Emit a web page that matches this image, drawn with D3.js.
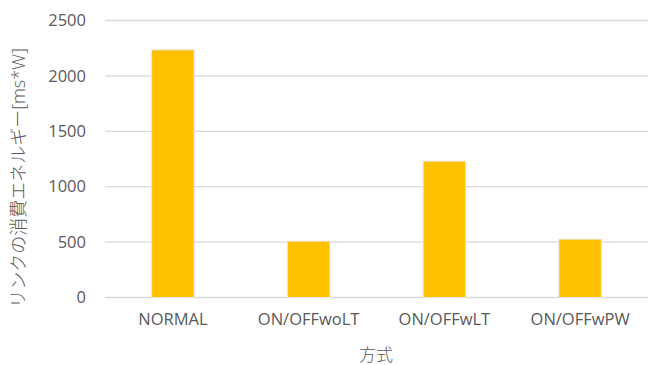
<!DOCTYPE html>
<html lang="ja">
<head>
  <meta charset="UTF-8">
  <title>リンクの消費エネルギー</title>
  <script src="https://d3js.org/d3.v7.min.js"></script>
  <style>
    body { margin: 0; background: #fff; }
    text { font-family: "Open Sans", "Noto Sans CJK JP", sans-serif; fill: #595959; }
  </style>
</head>
<body>
  <div id="root"></div>
  <script>
    const categories = ['NORMAL', 'ON/OFFwoLT', 'ON/OFFwLT', 'ON/OFFwPW']
    const values = [2235, 509, 1231, 527]
    const yTicks = [0, 500, 1000, 1500, 2000, 2500]
    const yTitle = 'リンクの消費エネルギー[ms*W]'
    const xTitle = '方式'

    const dimensions = {
      width: 653,
      height: 365,
      margin: { top: 20.5, right: 5, bottom: 67.5, left: 105 }
    }
    dimensions.boundedWidth = dimensions.width - dimensions.margin.left - dimensions.margin.right
    dimensions.boundedHeight = dimensions.height - dimensions.margin.top - dimensions.margin.bottom

    const wrapper = d3.select('#root')
      .append('svg')
        .attr('width', dimensions.width)
        .attr('height', dimensions.height)

    const bounds = wrapper.append('g')
      .attr('transform', `translate(${dimensions.margin.left}, ${dimensions.margin.top})`)

    const xScale = d3.scaleBand()
      .domain(categories)
      .range([0, dimensions.boundedWidth])
      .paddingInner(0.687)
      .paddingOuter(0.3435)

    const yScale = d3.scaleLinear()
      .domain([0, 2500])
      .range([dimensions.boundedHeight, 0])

    // gridlines
    bounds.append('g')
      .selectAll('line')
      .data(yTicks)
      .join('line')
      .attr('x1', 0)
      .attr('x2', dimensions.boundedWidth)
      .attr('y1', d => yScale(d))
      .attr('y2', d => yScale(d))
      .attr('stroke', '#d9d9d9')
      .attr('stroke-width', 1.3)

    // bars
    bounds.append('g')
      .selectAll('rect')
      .data(values)
      .join('rect')
      .attr('x', (d, i) => xScale(categories[i]))
      .attr('y', d => yScale(d))
      .attr('width', xScale.bandwidth())
      .attr('height', d => dimensions.boundedHeight - yScale(d))
      .attr('fill', '#ffc000')
      .attr('stroke', '#e6e6e6')
      .attr('stroke-width', 1)

    // y axis
    const yAxis = bounds.append('g')
      .call(d3.axisLeft(yScale).tickValues(yTicks).tickFormat(d3.format('d')).tickSize(0).tickPadding(19))
    yAxis.select('.domain').remove()
    yAxis.selectAll('text')
      .attr('font-size', 16.5)
      .style('font-family', '"Open Sans", sans-serif')
      .attr('fill', '#595959')

    // x axis
    const xAxis = bounds.append('g')
      .attr('transform', `translate(0, ${dimensions.boundedHeight})`)
      .call(d3.axisBottom(xScale).tickSize(0).tickPadding(16))
    xAxis.select('.domain').remove()
    xAxis.selectAll('text')
      .attr('font-size', 16.5)
      .style('font-family', '"Open Sans", sans-serif')
      .attr('fill', '#595959')

    // titles
    wrapper.append('text')
      .attr('x', 376)
      .attr('y', 361)
      .attr('text-anchor', 'middle')
      .attr('font-size', 17)
      .attr('font-weight', 300)
      .text(xTitle)

    wrapper.append('text')
      .attr('transform', `translate(25, 178) rotate(-90)`)
      .attr('text-anchor', 'middle')
      .attr('font-size', 18)
      .attr('font-weight', 300)
      .text(yTitle)
  </script>
</body>
</html>
